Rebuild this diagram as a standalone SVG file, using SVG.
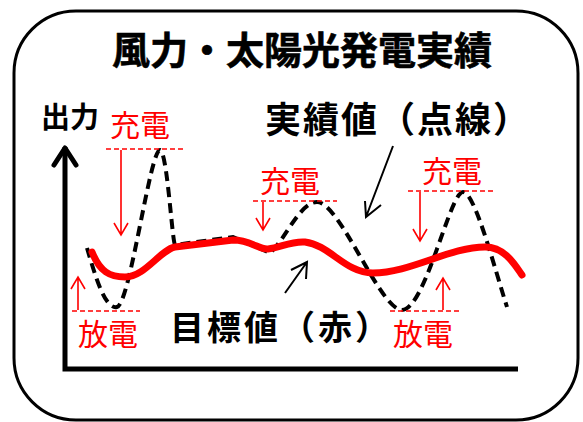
<svg xmlns="http://www.w3.org/2000/svg" width="583" height="422" viewBox="0 0 583 422">
<defs>
<style>
.blk{font-family:"Noto Sans CJK JP","Noto Sans CJK SC",sans-serif;font-weight:bold;fill:#000}
.red{font-family:"Noto Sans CJK JP","Noto Sans CJK SC",sans-serif;font-weight:normal;fill:#FF0000;font-size:30px}
.rdash{stroke:#FF0000;stroke-width:1.5;stroke-dasharray:5 3;fill:none}
.rarrow{stroke:#FF0000;stroke-width:1.6;fill:none}
.ptr{stroke:#000;stroke-width:2;fill:none}
</style>
</defs>
<rect width="583" height="422" fill="#fff"/>
<g id="frame">
<rect x="14" y="11" width="564" height="409" rx="62" ry="62" fill="none" stroke="#000" stroke-width="3"/>
</g>
<g id="title">
<text class="blk" x="302" y="64" font-size="38" text-anchor="middle" stroke="#000" stroke-width="0.6">風力・太陽光発電実績</text>
</g>
<g id="axes">
<path d="M65 147 V369 H518" fill="none" stroke="#000" stroke-width="5"/>
<path d="M54 165 L65 148 L76 165" fill="none" stroke="#000" stroke-width="5" stroke-linecap="round" stroke-linejoin="round"/>
<text class="blk" x="41" y="128" font-size="29">出力</text>
</g>
<g id="actual-curve">
<path d="M87 248 C95 275 105 310 117 307 C130 304 150 150 160 150 C167 150 172 240 175 245 L233 237 L270 253 C285 240 300 202 317 202 C340 202 380 310 402 310 C425 310 450 192 463 192 C475 192 495 270 507 307" fill="none" stroke="#000" stroke-width="4" stroke-dasharray="10 6"/>
</g>
<g id="target-curve">
<path d="M92 252 C100 272 110 277 125 277 C145 277 160 250 175 247 L233 240 C250 240 260 250 268 249 C280 248 290 241 305 242 C330 245 345 273 373 273 C410 273 450 247 485 247 C505 247 515 265 522 275" fill="none" stroke="#FF0000" stroke-width="7" stroke-linecap="round"/>
</g>
<g id="charge1">
<text class="red" x="110" y="136">充電</text>
<line class="rdash" x1="106" y1="149" x2="184" y2="149"/>
<path class="rarrow" d="M121 150 V235 M114 223 L121 235 L128 223"/>
</g>
<g id="charge2">
<text class="red" x="260" y="192">充電</text>
<line class="rdash" x1="253" y1="201" x2="337" y2="201"/>
<path class="rarrow" d="M263 202 V230 M256 218 L263 230 L270 218"/>
</g>
<g id="charge3">
<text class="red" x="422" y="182">充電</text>
<line class="rdash" x1="408" y1="191" x2="495" y2="191"/>
<path class="rarrow" d="M420 192 V241 M413 229 L420 241 L427 229"/>
</g>
<g id="discharge1">
<text class="red" x="78" y="345">放電</text>
<line class="rdash" x1="72" y1="311" x2="140" y2="311"/>
<path class="rarrow" d="M78 310 V277 M71 289 L78 277 L85 289"/>
</g>
<g id="discharge2">
<text class="red" x="393" y="345">放電</text>
<line class="rdash" x1="390" y1="311" x2="462" y2="311"/>
<path class="rarrow" d="M443 310 V278 M436 290 L443 278 L450 290"/>
</g>
<g id="label-actual">
<text class="blk" x="265" y="133" font-size="36" letter-spacing="2">実績値（点線）</text>
</g>
<g id="label-target">
<text class="blk" x="170" y="340" font-size="34" letter-spacing="3">目標値（赤）</text>
</g>
<g id="connectors">
<path class="ptr" d="M393 146 L366 217 M365 201 L366 217 L381 205"/>
<path class="ptr" d="M285 293 L307 262 M291 270 L307 262 L306 279"/>
</g>
</svg>
